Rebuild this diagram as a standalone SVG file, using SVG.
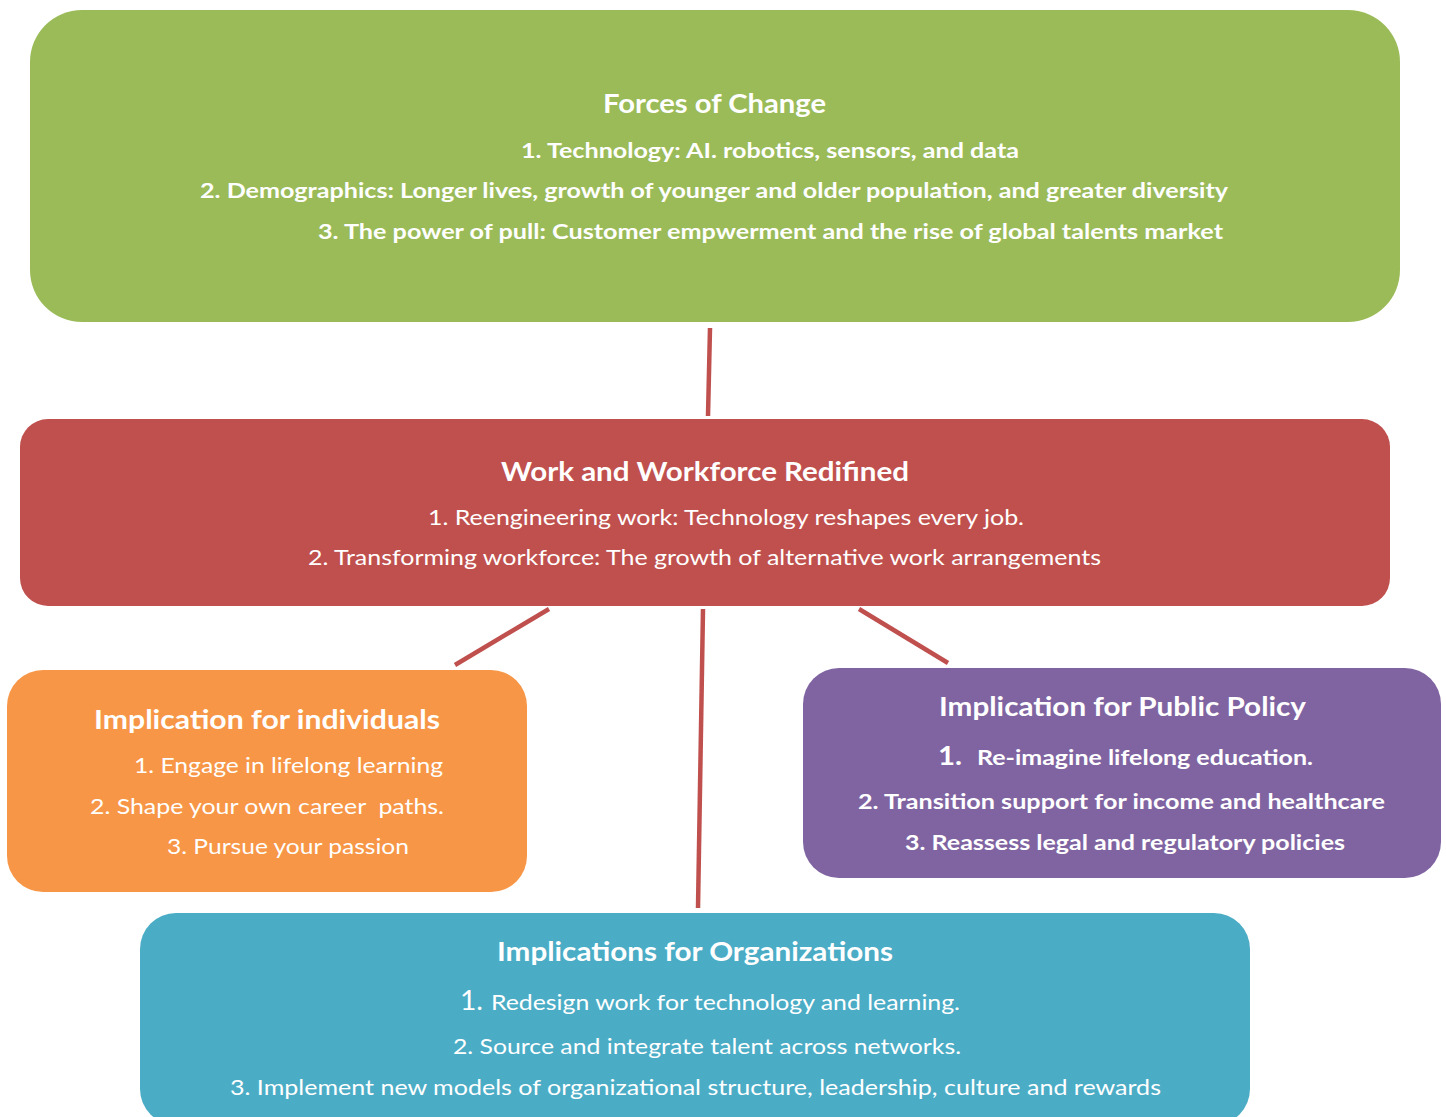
<svg xmlns="http://www.w3.org/2000/svg" width="1446" height="1117" viewBox="0 0 1446 1117">
  <style>
    text { font-family: "Lato", "Liberation Sans", sans-serif; fill: #ffffff; white-space: pre; }
    .title { font-size: 27px; font-weight: bold; }
    .b { font-size: 21px; font-weight: bold; }
    .r { font-size: 21px; }
    .num { font-size: 26px; }
    .link { stroke: #C0504D; stroke-width: 4.5; fill: none; }
  </style>

  <!-- connectors -->
  <g id="connectors">
    <line class="link" x1="710" y1="328" x2="708" y2="416"/>
    <line class="link" x1="549" y1="609" x2="455" y2="665"/>
    <line class="link" x1="703" y1="609" x2="698" y2="908"/>
    <line class="link" x1="859" y1="609" x2="948" y2="663"/>
  </g>

  <g id="forces-of-change">
    <rect x="30" y="10" width="1370" height="312" rx="52" fill="#9BBB59"/>
    <text class="title" x="603" y="113" textLength="223" lengthAdjust="spacingAndGlyphs">Forces of Change</text>
    <text class="b" x="521" y="158" textLength="498" lengthAdjust="spacingAndGlyphs">1. Technology: AI. robotics, sensors, and data</text>
    <text class="b" x="200" y="198" textLength="1028" lengthAdjust="spacingAndGlyphs">2. Demographics: Longer lives, growth of younger and older population, and greater diversity</text>
    <text class="b" x="318" y="239" textLength="905" lengthAdjust="spacingAndGlyphs">3. The power of pull: Customer empwerment and the rise of global talents market</text>
  </g>

  <g id="work-redefined">
    <rect x="20" y="419" width="1370" height="187" rx="28" fill="#C0504D"/>
    <text class="title" x="501" y="481" textLength="408" lengthAdjust="spacingAndGlyphs">Work and Workforce Redifined</text>
    <text class="r" x="428" y="525" textLength="596" lengthAdjust="spacingAndGlyphs">1. Reengineering work: Technology reshapes every job.</text>
    <text class="r" x="308" y="565" textLength="793" lengthAdjust="spacingAndGlyphs">2. Transforming workforce: The growth of alternative work arrangements</text>
  </g>

  <g id="individuals">
    <rect x="7" y="670" width="520" height="222" rx="36" fill="#F79646"/>
    <text class="title" x="94" y="729" textLength="346" lengthAdjust="spacingAndGlyphs">Implication for individuals</text>
    <text class="r" x="134" y="773" textLength="309" lengthAdjust="spacingAndGlyphs">1. Engage in lifelong learning</text>
    <text class="r" x="90" y="814" textLength="354" lengthAdjust="spacingAndGlyphs">2. Shape your own career  paths.</text>
    <text class="r" x="167" y="854" textLength="242" lengthAdjust="spacingAndGlyphs">3. Pursue your passion</text>
  </g>

  <g id="public-policy">
    <rect x="803" y="668" width="638" height="210" rx="36" fill="#8064A2"/>
    <text class="title" x="939" y="716" textLength="367" lengthAdjust="spacingAndGlyphs">Implication for Public Policy</text>
    <text class="b num" x="938" y="765" textLength="24" lengthAdjust="spacingAndGlyphs">1.</text>
    <text class="b" x="977" y="765" textLength="336" lengthAdjust="spacingAndGlyphs">Re-imagine lifelong education.</text>
    <text class="b" x="858" y="809" textLength="527" lengthAdjust="spacingAndGlyphs">2. Transition support for income and healthcare</text>
    <text class="b" x="905" y="850" textLength="440" lengthAdjust="spacingAndGlyphs">3. Reassess legal and regulatory policies</text>
  </g>

  <g id="organizations">
    <rect x="140" y="913" width="1110" height="212" rx="36" fill="#4BACC6"/>
    <text class="title" x="497" y="961" textLength="396" lengthAdjust="spacingAndGlyphs">Implications for Organizations</text>
    <text class="num" x="460" y="1010" textLength="23" lengthAdjust="spacingAndGlyphs">1.</text>
    <text class="r" x="491" y="1010" textLength="469" lengthAdjust="spacingAndGlyphs">Redesign work for technology and learning.</text>
    <text class="r" x="453" y="1054" textLength="508" lengthAdjust="spacingAndGlyphs">2. Source and integrate talent across networks.</text>
    <text class="r" x="230" y="1095" textLength="931" lengthAdjust="spacingAndGlyphs">3. Implement new models of organizational structure, leadership, culture and rewards</text>
  </g>
</svg>
